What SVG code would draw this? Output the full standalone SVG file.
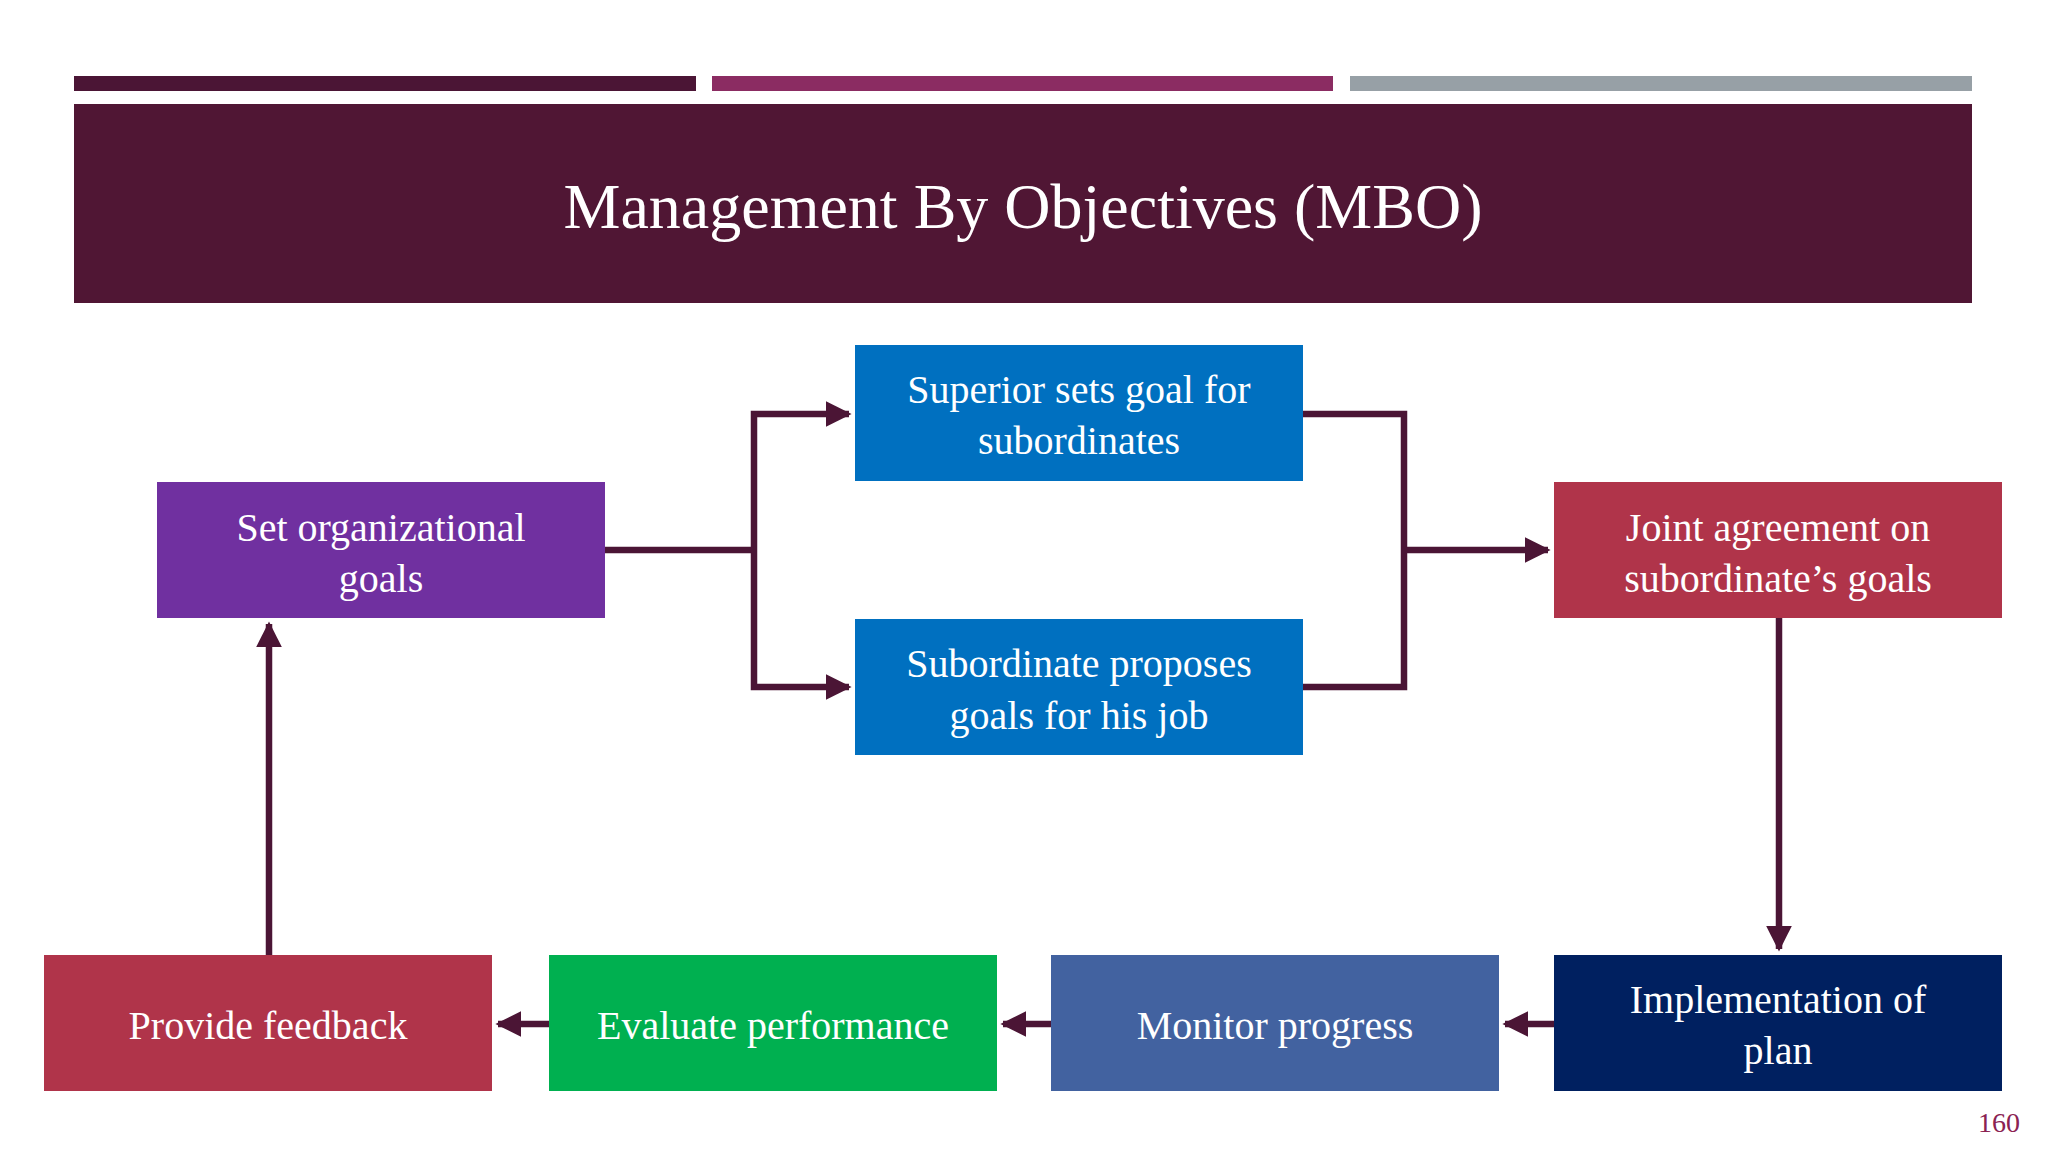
<svg xmlns="http://www.w3.org/2000/svg" width="2048" height="1152" viewBox="0 0 2048 1152">
<defs>
<style>
.t{font-family:"Liberation Serif","DejaVu Serif",serif;fill:#fff;text-anchor:middle;dominant-baseline:central;font-size:40px}
.c{fill:none;stroke:#4B1535;stroke-width:6.5}
</style>
<marker id="a" viewBox="0 0 10 10" refX="9" refY="5" markerWidth="4" markerHeight="4" orient="auto" markerUnits="strokeWidth"><path d="M0,0L10,5L0,10z" fill="#4B1535"/></marker>
</defs>
<rect width="2048" height="1152" fill="#fff"/>
<rect x="74" y="76" width="622" height="15" fill="#4B1535"/>
<rect x="712" y="76" width="621" height="15" fill="#8B2C62"/>
<rect x="1350" y="76" width="622" height="15" fill="#97A0A6"/>
<g id="title"><rect x="74" y="104" width="1898" height="199" fill="#501634"/>
<text class="t" x="1023" y="206" style="font-size:64px">Management By Objectives (MBO)</text></g>
<g id="connectors">
<path class="c" d="M605,550H754M754,550V414H849" marker-end="url(#a)"/>
<path class="c" d="M754,550V687H849" marker-end="url(#a)"/>
<path class="c" d="M1303,414H1404V687H1303"/>
<path class="c" d="M1404,550H1548" marker-end="url(#a)"/>
<path class="c" d="M1779,618V949" marker-end="url(#a)"/>
<path class="c" d="M1554,1024H1505" marker-end="url(#a)"/>
<path class="c" d="M1051,1024H1003" marker-end="url(#a)"/>
<path class="c" d="M549,1024H498" marker-end="url(#a)"/>
<path class="c" d="M269,955V624" marker-end="url(#a)"/>
</g>
<g id="n1"><rect x="157" y="482" width="448" height="136" fill="#7030A0"/><text class="t" x="381" y="527">Set organizational</text><text class="t" x="381" y="578">goals</text></g>
<g id="n2"><rect x="855" y="345" width="448" height="136" fill="#0070C0"/><text class="t" x="1079" y="389">Superior sets goal for</text><text class="t" x="1079" y="440">subordinates</text></g>
<g id="n3"><rect x="855" y="619" width="448" height="136" fill="#0070C0"/><text class="t" x="1079" y="663">Subordinate proposes</text><text class="t" x="1079" y="715">goals for his job</text></g>
<g id="n4"><rect x="1554" y="482" width="448" height="136" fill="#B0344A"/><text class="t" x="1778" y="527">Joint agreement on</text><text class="t" x="1778" y="578">subordinate’s goals</text></g>
<g id="n5"><rect x="1554" y="955" width="448" height="136" fill="#002060"/><text class="t" x="1778" y="999">Implementation of</text><text class="t" x="1778" y="1050">plan</text></g>
<g id="n6"><rect x="1051" y="955" width="448" height="136" fill="#4262A0"/><text class="t" x="1275" y="1025">Monitor progress</text></g>
<g id="n7"><rect x="549" y="955" width="448" height="136" fill="#00B050"/><text class="t" x="773" y="1025">Evaluate performance</text></g>
<g id="n8"><rect x="44" y="955" width="448" height="136" fill="#B0344A"/><text class="t" x="268" y="1025">Provide feedback</text></g>
<text x="2020" y="1122" style="font-family:'Liberation Serif',serif;font-size:28px;fill:#8B2252;text-anchor:end;dominant-baseline:central">160</text>
</svg>
